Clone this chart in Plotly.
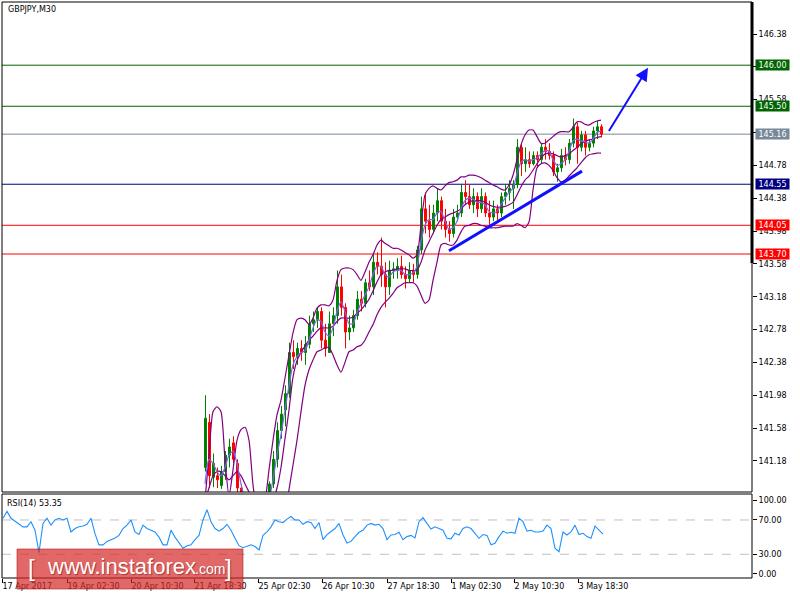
import plotly.graph_objects as go

# ---------------- data ----------------
SYMBOL_TITLE = "GBPJPY,M30"
RSI_TITLE = "RSI(14) 53.35"

# x axis = bar number (1 bar per pixel column as in the MT4 chart)
X_TICK_BARS = [2, 67, 131, 194, 258, 322, 387, 451, 514, 578]
X_TICK_TEXT = ["17 Apr 2017", "19 Apr 02:30", "20 Apr 10:30", "21 Apr 18:30",
               "25 Apr 02:30", "26 Apr 10:30", "27 Apr 18:30", "1 May 02:30",
               "2 May 10:30", "3 May 18:30"]

PRICE_TICKS = [141.18, 141.58, 141.98, 142.38, 142.78, 143.18, 143.58,
               143.98, 144.38, 144.78, 145.18, 145.58, 145.98, 146.38]
# tick labels fully hidden behind level labels in the original
HIDDEN_TICKS = [145.18, 145.98]

# candles: every candle groups 4 M30 bars, first candle starts at bar 204
CANDLE_START = 204
CANDLE_STEP = 4
OPEN = [141.10, 141.65, 140.98, 141.00, 140.88, 141.05, 141.25, 141.40, 141.15, 140.85,
        140.65, 140.55, 140.50, 140.45, 140.50, 140.55, 140.75, 140.90, 141.20, 141.55,
        141.80, 142.00, 142.50, 142.45, 142.55, 142.50, 142.60, 142.85, 142.90, 143.00,
        142.65, 142.50, 142.85, 142.95, 143.30, 143.05, 142.75, 142.80, 142.95, 143.15,
        143.10, 143.35, 143.30, 143.60, 143.55, 143.45, 143.30, 143.50, 143.50, 143.55,
        143.45, 143.40, 143.50, 143.45, 143.75, 144.25, 144.10, 144.00, 144.20, 144.35,
        144.10, 144.00, 143.95, 144.15, 144.20, 144.45, 144.40, 144.30, 144.40, 144.25,
        144.40, 144.20, 144.15, 144.25, 144.20, 144.40, 144.45, 144.50, 144.55, 145.00,
        144.80, 144.85, 144.80, 144.90, 144.85, 145.00, 144.95, 144.90, 144.70, 144.75,
        144.90, 144.85, 145.05, 145.25, 145.00, 145.15, 145.00, 145.05, 145.20, 145.25]
HIGH = [141.98, 141.75, 141.27, 141.10, 141.12, 141.30, 141.45, 141.48, 141.20, 140.90,
        140.70, 140.62, 140.58, 140.60, 140.65, 140.78, 140.93, 141.30, 141.65, 141.85,
        142.10, 142.62, 142.65, 142.62, 142.65, 142.70, 142.95, 143.00, 143.05, 143.05,
        142.85, 143.00, 143.05, 143.50, 143.45, 143.10, 142.95, 143.02, 143.25, 143.25,
        143.40, 143.50, 143.72, 143.72, 143.90, 143.60, 143.62, 143.60, 143.65, 143.68,
        143.55, 143.60, 143.58, 143.80, 144.40, 144.45, 144.30, 144.30, 144.50, 144.40,
        144.25, 144.10, 144.25, 144.30, 144.55, 144.60, 144.55, 144.50, 144.45, 144.50,
        144.45, 144.35, 144.35, 144.30, 144.45, 144.55, 144.60, 144.60, 145.10, 145.05,
        145.00, 144.95, 144.95, 144.95, 145.05, 145.10, 145.05, 144.95, 144.80, 144.98,
        145.00, 145.10, 145.35, 145.30, 145.20, 145.20, 145.10, 145.25, 145.32, 145.28]
LOW = [141.05, 140.85, 140.86, 140.85, 140.84, 140.95, 141.10, 141.15, 140.80, 140.55,
       140.45, 140.40, 140.35, 140.40, 140.45, 140.50, 140.70, 140.85, 141.10, 141.45,
       141.60, 141.95, 142.30, 142.35, 142.40, 142.35, 142.55, 142.75, 142.80, 142.55,
       142.45, 142.50, 142.70, 142.85, 142.95, 142.55, 142.65, 142.75, 142.90, 143.00,
       143.05, 143.25, 143.20, 143.45, 143.30, 143.05, 143.20, 143.40, 143.40, 143.40,
       143.28, 143.35, 143.35, 143.40, 143.70, 143.95, 143.90, 143.95, 144.10, 144.00,
       143.90, 143.85, 143.90, 144.10, 144.15, 144.30, 144.25, 144.20, 144.15, 144.20,
       144.15, 144.05, 144.10, 144.10, 144.15, 144.30, 144.35, 144.25, 144.50, 144.65,
       144.70, 144.75, 144.78, 144.75, 144.80, 144.85, 144.85, 144.65, 144.58, 144.70,
       144.78, 144.80, 145.00, 144.80, 144.95, 144.90, 144.95, 145.00, 145.10, 145.12]
CLOSE = [141.70, 141.00, 141.15, 140.95, 141.05, 141.25, 141.35, 141.20, 140.85, 140.65,
         140.55, 140.50, 140.45, 140.50, 140.55, 140.72, 140.90, 141.20, 141.55, 141.75,
         142.00, 142.50, 142.45, 142.55, 142.50, 142.60, 142.85, 142.90, 143.00, 142.65,
         142.55, 142.85, 142.95, 143.30, 143.05, 142.75, 142.80, 142.95, 143.15, 143.10,
         143.35, 143.30, 143.60, 143.55, 143.45, 143.30, 143.50, 143.52, 143.55, 143.45,
         143.40, 143.50, 143.45, 143.75, 144.25, 144.10, 144.00, 144.20, 144.35, 144.10,
         144.00, 143.95, 144.15, 144.20, 144.45, 144.40, 144.30, 144.40, 144.25, 144.40,
         144.20, 144.15, 144.25, 144.20, 144.40, 144.45, 144.50, 144.55, 145.00, 144.80,
         144.85, 144.80, 144.90, 144.85, 145.00, 144.95, 144.90, 144.70, 144.75, 144.90,
         144.85, 145.05, 145.25, 145.00, 145.15, 145.00, 145.05, 145.20, 145.25, 145.16]

# Bollinger bands and fast moving average, read every 4 bars from bar 205
BAND_START = 205
BAND_STEP = 4
BB_UPPER = [140.70, 141.25, 141.78, 141.84, 141.78, 141.19, 140.75, 141.07, 141.43, 141.56,
            141.59, 141.43, 140.89, 140.60, 140.60, 140.70, 141.07, 141.43, 141.74, 141.92,
            142.19, 142.47, 142.74, 142.90, 142.92, 142.90, 142.84, 142.92, 143.04, 143.08,
            143.08, 143.07, 143.14, 143.38, 143.51, 143.53, 143.53, 143.51, 143.45, 143.38,
            143.48, 143.60, 143.69, 143.81, 143.87, 143.83, 143.80, 143.77, 143.77, 143.75,
            143.72, 143.69, 143.65, 143.69, 144.05, 144.42, 144.50, 144.53, 144.50, 144.48,
            144.53, 144.57, 144.58, 144.60, 144.64, 144.64, 144.66, 144.66, 144.65, 144.63,
            144.60, 144.57, 144.54, 144.52, 144.49, 144.48, 144.54, 144.66, 144.85, 145.03,
            145.15, 145.21, 145.21, 145.13, 145.05, 145.05, 145.09, 145.13, 145.17, 145.19,
            145.19, 145.19, 145.24, 145.31, 145.31, 145.28, 145.27, 145.30, 145.32, 145.33]
BB_MIDDLE = [140.70, 140.85, 141.00, 141.05, 141.05, 141.00, 140.95, 141.00, 141.05, 141.00,
             140.90, 140.80, 140.70, 140.60, 140.55, 140.55, 140.60, 140.70, 140.85, 141.10,
             141.45, 141.80, 142.20, 142.40, 142.50, 142.58, 142.65, 142.70, 142.76, 142.80,
             142.80, 142.80, 142.82, 142.88, 142.92, 142.92, 142.92, 142.93, 142.98, 143.02,
             143.08, 143.15, 143.25, 143.36, 143.45, 143.48, 143.50, 143.50, 143.52, 143.52,
             143.52, 143.50, 143.50, 143.50, 143.60, 143.75, 143.85, 143.95, 144.05, 144.12,
             144.15, 144.18, 144.20, 144.22, 144.25, 144.30, 144.33, 144.35, 144.35, 144.35,
             144.33, 144.30, 144.28, 144.27, 144.27, 144.28, 144.30, 144.33, 144.42, 144.52,
             144.60, 144.65, 144.72, 144.80, 144.87, 144.92, 144.93, 144.92, 144.90, 144.88,
             144.90, 144.92, 144.96, 145.00, 145.04, 145.07, 145.09, 145.10, 145.12, 145.13]
BB_LOWER = [140.50, 140.50, 140.50, 140.50, 140.50, 140.50, 140.50, 140.50, 140.50, 140.50,
            140.50, 140.50, 140.50, 140.50, 140.50, 140.50, 140.50, 140.50, 140.50, 140.50,
            140.50, 140.83, 141.13, 141.43, 141.78, 142.10, 142.29, 142.41, 142.51, 142.53,
            142.56, 142.56, 142.47, 142.35, 142.26, 142.38, 142.51, 142.53, 142.57, 142.59,
            142.65, 142.75, 142.84, 142.96, 143.05, 143.11, 143.16, 143.22, 143.29, 143.32,
            143.35, 143.35, 143.35, 143.31, 143.20, 143.10, 143.14, 143.38, 143.60, 143.81,
            143.83, 143.81, 143.81, 143.87, 143.97, 144.04, 144.05, 144.07, 144.07, 144.05,
            144.04, 144.02, 144.02, 144.02, 144.03, 144.04, 144.04, 144.04, 144.07, 144.05,
            144.02, 144.09, 144.48, 144.75, 144.80, 144.81, 144.78, 144.72, 144.63, 144.58,
            144.60, 144.65, 144.70, 144.75, 144.81, 144.87, 144.91, 144.92, 144.93, 144.93]
FAST_MA = [140.90, 141.20, 141.15, 141.05, 141.00, 141.10, 141.25, 141.30, 141.15, 140.90,
           140.70, 140.50, 140.45, 140.45, 140.50, 140.55, 140.70, 140.95, 141.25, 141.50,
           141.80, 142.10, 142.35, 142.45, 142.50, 142.52, 142.65, 142.80, 142.90, 142.88,
           142.75, 142.70, 142.80, 143.00, 143.12, 143.00, 142.85, 142.85, 142.98, 143.10,
           143.20, 143.30, 143.45, 143.55, 143.55, 143.45, 143.42, 143.48, 143.50, 143.50,
           143.45, 143.45, 143.47, 143.55, 143.85, 144.05, 144.12, 144.12, 144.20, 144.22,
           144.10, 144.00, 144.02, 144.10, 144.25, 144.35, 144.38, 144.37, 144.33, 144.33,
           144.30, 144.22, 144.20, 144.22, 144.30, 144.38, 144.45, 144.50, 144.68, 144.82,
           144.85, 144.83, 144.85, 144.87, 144.92, 144.96, 144.95, 144.85, 144.78, 144.80,
           144.85, 144.95, 145.08, 145.10, 145.08, 145.07, 145.05, 145.10, 145.18, 145.20]

# RSI(14), read every 4 bars from bar 3
RSI_START = 3
RSI_STEP = 4
RSI = [72, 80, 72, 69, 65, 62, 62, 68, 58, 32, 66, 72, 64, 70, 72, 70, 72, 56, 60, 62,
       63, 65, 72, 54, 41, 41, 45, 47, 49, 52, 60, 64, 70, 56, 53, 64, 60, 58, 56, 50,
       41, 41, 58, 50, 43, 37, 40, 41, 47, 52, 70, 82, 68, 60, 57, 60, 65, 58, 48.6, 40,
       37.7, 39, 41, 39, 35, 52, 56, 62, 70, 68, 67, 71, 74, 70, 70, 65, 68, 67, 60, 67,
       47, 53, 57, 60, 66, 52.5, 43, 45, 50.6, 55.6, 58, 64, 66, 64, 65, 60, 47, 52.5, 53, 55.6,
       47, 50.6, 52, 49, 68, 72.7, 66, 59.5, 62, 59.5, 58, 48.6, 48, 54.5, 52.5, 60, 62, 60,
       54.5, 48.6, 53, 52, 41, 42.8, 50.6, 57, 54.5, 55.6, 54.5, 72, 68, 57, 58, 56, 56, 57,
       64, 60, 37, 33, 56, 52.5, 56, 64, 53, 54.5, 50.6, 48.6, 63, 58.4, 53.4]
RSI_LEVELS = [70, 30]
RSI_TICKS = [93.3, 70, 30, 7.0]
RSI_TICK_TEXT = ["100.00", "70.00", "30.00", "0.00"]

# horizontal levels drawn on the chart (price, colour)
LEVELS = [146.00, 145.50, 145.16, 144.55, 144.05, 143.70]
LEVEL_COLORS = ["#006400", "#006400", "#778899", "#000080", "#ff0000", "#ff0000"]

# drawn trend line and forecast arrow (bar, price)
TREND_BARS = [449, 582]
TREND_PRICES = [143.74, 144.71]
ARROW_BARS = [608, 648]
ARROW_PRICES = [145.18, 145.97]

# ---------------- layout helpers (pixel geometry) ----------------
PL, PR, PT, PB = 2, 752, 2, 578          # plot area in page pixels
MAIN_BOTTOM, RSI_TOP = 492, 494


def fx(x):
    return (x - PL) / (PR - PL)


def fy(y):
    return (PB - y) / (PB - PT)


FONT = "DejaVu Sans"

cx = [CANDLE_START + 1.5 + CANDLE_STEP * i for i in range(len(CLOSE))]
bx = [BAND_START + BAND_STEP * i for i in range(len(BB_UPPER))]
mx = [BAND_START + BAND_STEP * i for i in range(len(FAST_MA))]
rx = [RSI_START + RSI_STEP * i for i in range(len(RSI))]

fig = go.Figure()

fig.add_trace(go.Candlestick(
    x=cx, open=OPEN, high=HIGH, low=LOW, close=CLOSE,
    increasing=dict(line=dict(color="#008000", width=1), fillcolor="#008000"),
    decreasing=dict(line=dict(color="#ff0000", width=1), fillcolor="#ff0000"),
    whiskerwidth=0, xaxis="x", yaxis="y", showlegend=False, hoverinfo="skip"))

for band in (BB_UPPER, BB_MIDDLE, BB_LOWER):
    fig.add_trace(go.Scatter(x=bx, y=band, mode="lines",
                             line=dict(color="#800080", width=1.2, shape="spline", smoothing=0.6),
                             xaxis="x", yaxis="y", showlegend=False, hoverinfo="skip"))
fig.add_trace(go.Scatter(x=mx, y=FAST_MA, mode="lines",
                         line=dict(color="#7b68ee", width=1.2, shape="spline", smoothing=0.6),
                         xaxis="x", yaxis="y", showlegend=False, hoverinfo="skip"))

# trend line
fig.add_trace(go.Scatter(x=TREND_BARS, y=TREND_PRICES, mode="lines",
                         line=dict(color="#1010ff", width=3),
                         xaxis="x", yaxis="y", showlegend=False, hoverinfo="skip"))

# RSI
fig.add_trace(go.Scatter(x=rx, y=RSI, mode="lines", line=dict(color="#1e90ff", width=1.1),
                         xaxis="x2", yaxis="y2", showlegend=False, hoverinfo="skip"))

shapes = []
for lvl, col in zip(LEVELS, LEVEL_COLORS):
    shapes.append(dict(type="line", xref="x domain", yref="y", x0=0, x1=1, y0=lvl, y1=lvl,
                       line=dict(color=col, width=1), layer="below"))
for lvl in RSI_LEVELS:
    shapes.append(dict(type="line", xref="x2 domain", yref="y2", x0=0, x1=1, y0=lvl, y1=lvl,
                       line=dict(color="#c0c0c0", width=1, dash="dash"), layer="below"))

# frames
shapes.append(dict(type="rect", xref="paper", yref="paper", x0=fx(PL), x1=fx(PR),
                   y0=fy(MAIN_BOTTOM), y1=fy(PT), line=dict(color="black", width=1)))
shapes.append(dict(type="rect", xref="paper", yref="paper", x0=fx(PL), x1=fx(PR),
                   y0=fy(PB), y1=fy(RSI_TOP), line=dict(color="black", width=1)))
shapes.append(dict(type="line", xref="paper", yref="paper", x0=fx(PR), x1=fx(PR),
                   y0=fy(263), y1=fy(PT), line=dict(color="black", width=3)))

# watermark box
shapes.append(dict(type="rect", xref="paper", yref="paper", x0=fx(17), x1=fx(243),
                   y0=fy(589), y1=fy(549), fillcolor="rgba(214,40,40,0.70)",
                   line=dict(color="rgba(170,30,30,0.6)", width=1), layer="above"))

annotations = []
annotations.append(dict(text=SYMBOL_TITLE, xref="paper", yref="paper", x=fx(6), y=fy(10),
                        xanchor="left", yanchor="middle", showarrow=False,
                        font=dict(family=FONT, size=8, color="black")))
annotations.append(dict(text=RSI_TITLE, xref="paper", yref="paper", x=fx(5), y=fy(503),
                        xanchor="left", yanchor="middle", showarrow=False,
                        font=dict(family=FONT, size=8, color="black")))
for lvl, col in zip(LEVELS, LEVEL_COLORS):
    annotations.append(dict(text=f"{lvl:.2f}", xref="paper", yref="y", x=1, y=lvl,
                            xanchor="left", yanchor="middle", xshift=3, showarrow=False,
                            bgcolor=col, width=33, height=10, borderpad=0,
                            font=dict(family=FONT, size=8, color="white")))
# forecast arrow
annotations.append(dict(x=ARROW_BARS[1], y=ARROW_PRICES[1], ax=ARROW_BARS[0], ay=ARROW_PRICES[0],
                        xref="x", yref="y", axref="x", ayref="y", text="", showarrow=True,
                        arrowhead=2, arrowsize=1.3, arrowwidth=2, arrowcolor="#1010ff"))
# watermark text
wm_font = dict(family="Liberation Sans", color="white", shadow="1px 1px 1px rgba(90,0,0,0.45)")
annotations.append(dict(text="[", xref="paper", yref="paper", x=fx(31), y=fy(567),
                        xanchor="center", yanchor="middle", showarrow=False,
                        font=dict(size=24, **wm_font)))
annotations.append(dict(text="www.instaforex", xref="paper", yref="paper", x=fx(45), y=fy(566),
                        xanchor="left", yanchor="middle", showarrow=False,
                        font=dict(size=22, **wm_font)))
annotations.append(dict(text=".com", xref="paper", yref="paper", x=fx(193), y=fy(569),
                        xanchor="left", yanchor="middle", showarrow=False,
                        font=dict(size=14, **wm_font)))
annotations.append(dict(text="]", xref="paper", yref="paper", x=fx(229), y=fy(567),
                        xanchor="center", yanchor="middle", showarrow=False,
                        font=dict(size=24, **wm_font)))

main_bottom_frac = fy(MAIN_BOTTOM)
rsi_top_frac = fy(RSI_TOP)

fig.update_layout(
    width=800, height=600,
    margin=dict(l=PL, r=800 - PR, t=PT, b=600 - PB, pad=0),
    paper_bgcolor="white", plot_bgcolor="white",
    showlegend=False,
    font=dict(family=FONT, size=8, color="black"),
    xaxis=dict(domain=[0, 1], anchor="y", range=[PL, PR], showticklabels=False,
               showgrid=False, zeroline=False, showline=False, ticks="",
               rangeslider=dict(visible=False)),
    xaxis2=dict(domain=[0, 1], anchor="y2", range=[PL, PR], matches="x",
                showgrid=False, zeroline=False, showline=False,
                tickmode="array", tickvals=X_TICK_BARS, ticktext=X_TICK_TEXT,
                ticks="outside", ticklen=4, tickcolor="black", tickwidth=1,
                ticklabelposition="outside right",
                tickfont=dict(family=FONT, size=8, color="black")),
    yaxis=dict(domain=[main_bottom_frac, 1], anchor="x", side="right",
               range=[146.38 - (MAIN_BOTTOM - 34) / 82.1, 146.38 + (34 - PT) / 82.1],
               tickmode="array", tickvals=PRICE_TICKS,
               ticktext=["" if v in HIDDEN_TICKS else f"{v:.2f}" for v in PRICE_TICKS],
               ticks="outside", ticklen=4, tickcolor="black",
               showgrid=False, zeroline=False, showline=False,
               tickfont=dict(family=FONT, size=8, color="black")),
    yaxis2=dict(domain=[0, rsi_top_frac], anchor="x2", side="right",
                range=[2.3, 100.3], tickmode="array", tickvals=RSI_TICKS,
                ticktext=RSI_TICK_TEXT, ticks="outside", ticklen=4, tickcolor="black",
                showgrid=False, zeroline=False, showline=False,
                tickfont=dict(family=FONT, size=8, color="black")),
    shapes=shapes, annotations=annotations,
)

fig.write_html("out.html", config={"displayModeBar": False},
               post_script="document.body.style.margin='0';")
